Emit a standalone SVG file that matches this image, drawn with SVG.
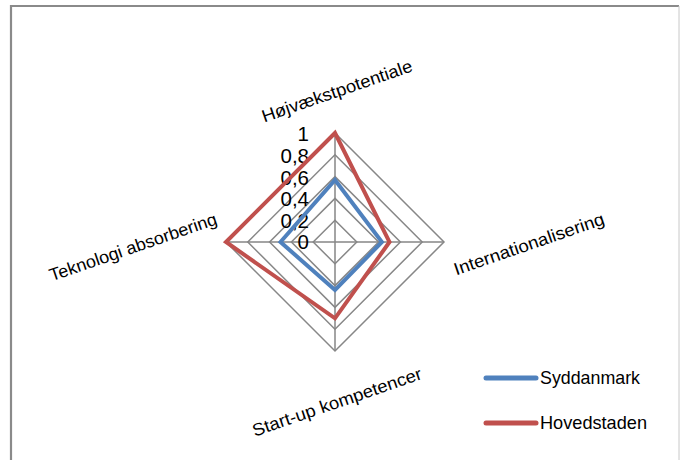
<svg xmlns="http://www.w3.org/2000/svg" width="680" height="460" viewBox="0 0 680 460">
<style>
.grid{fill:none;stroke:#878787;stroke-width:1.5}
.series{fill:none;stroke-width:4;stroke-linejoin:miter}
.tick{font-family:"Liberation Sans",Arial,sans-serif;font-size:20.5px;fill:#000;text-anchor:end}
.axis{font-family:"Liberation Sans",Arial,sans-serif;font-size:17.5px;fill:#000;text-anchor:middle}
.leg{font-family:"Liberation Sans",Arial,sans-serif;font-size:18.5px;fill:#000}
</style>
<rect x="0" y="0" width="680" height="460" fill="#fff"/>
<path d="M11,460 V6 H679" fill="none" stroke="#8a8a8a" stroke-width="2.2"/>
<path d="M679,6 V460" fill="none" stroke="#c8c8c8" stroke-width="1"/>
<g id="grid">
<polygon class="grid" points="335,220.2 356.8,242 335,263.8 313.2,242"/>
<polygon class="grid" points="335,198.4 378.6,242 335,285.6 291.4,242"/>
<polygon class="grid" points="335,176.6 400.4,242 335,307.4 269.6,242"/>
<polygon class="grid" points="335,154.8 422.2,242 335,329.2 247.8,242"/>
<polygon class="grid" points="335,133 444,242 335,351 226,242"/>
<path class="grid" d="M335,133 V351 M226,242 H444"/>
</g>
<g id="ticks">
<text class="tick" x="309" y="141">1</text>
<text class="tick" x="309" y="163">0,8</text>
<text class="tick" x="309" y="184.5">0,6</text>
<text class="tick" x="309" y="206">0,4</text>
<text class="tick" x="309" y="227.5">0,2</text>
<text class="tick" x="309" y="249">0</text>
</g>
<g id="connectors">
<polygon id="syddanmark" class="series" stroke="#4F81BD" points="335,180 381.9,242 335,290 280.5,242"/>
<polygon id="hovedstaden" class="series" stroke="#C0504D" points="335,133 389.5,242 335,318.3 226,242"/>
</g>
<g id="axis-hoejvaekst" transform="translate(337,91) rotate(-19)"><text class="axis" x="0" y="6" textLength="158" lengthAdjust="spacingAndGlyphs">Højvækstpotentiale</text></g>
<g id="axis-internationalisering" transform="translate(529,244) rotate(-19)"><text class="axis" x="0" y="6" textLength="158" lengthAdjust="spacingAndGlyphs">Internationalisering</text></g>
<g id="axis-startup" transform="translate(337,402) rotate(-19)"><text class="axis" x="0" y="6" textLength="178" lengthAdjust="spacingAndGlyphs">Start-up kompetencer</text></g>
<g id="axis-teknologi" transform="translate(133,247) rotate(-19)"><text class="axis" x="0" y="6" textLength="176" lengthAdjust="spacingAndGlyphs">Teknologi absorbering</text></g>
<g id="legend">
<g id="legend-syddanmark"><line x1="486" y1="378" x2="536" y2="378" stroke="#4F81BD" stroke-width="5" stroke-linecap="round"/><text class="leg" x="540" y="384" textLength="100" lengthAdjust="spacingAndGlyphs">Syddanmark</text></g>
<g id="legend-hovedstaden"><line x1="486" y1="423" x2="536" y2="423" stroke="#C0504D" stroke-width="5" stroke-linecap="round"/><text class="leg" x="540" y="429" textLength="107" lengthAdjust="spacingAndGlyphs">Hovedstaden</text></g>
</g>
</svg>
